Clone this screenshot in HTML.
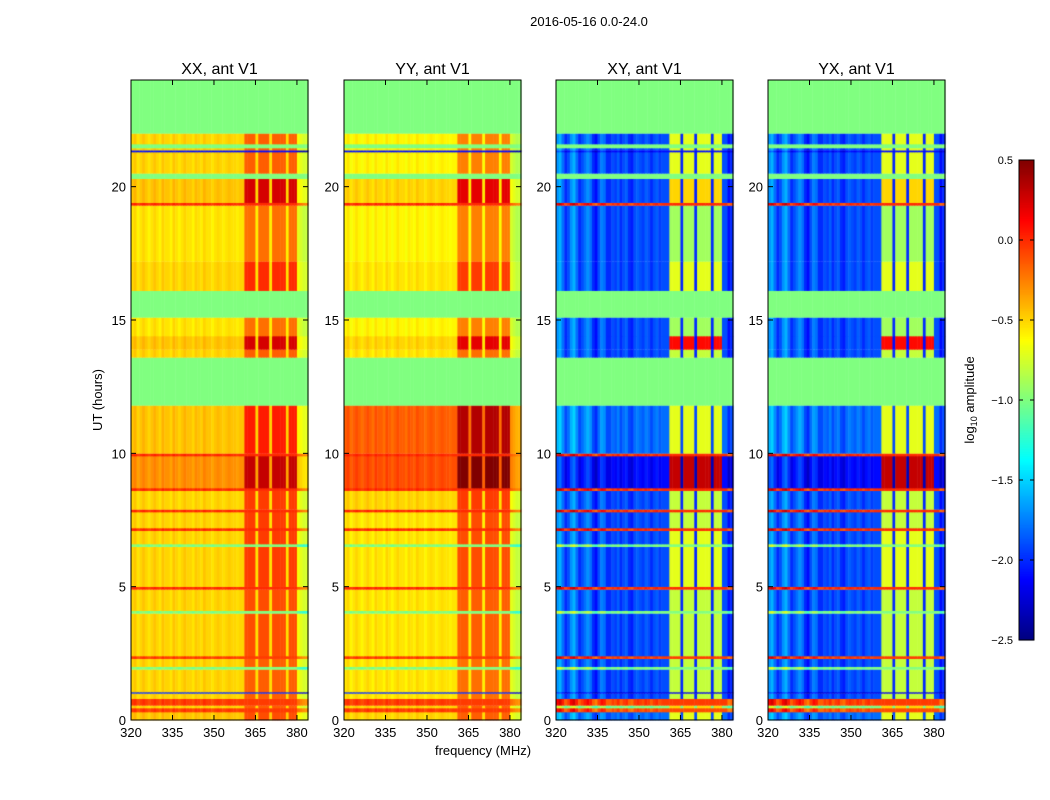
<!DOCTYPE html>
<html><head><meta charset="utf-8">
<style>
body{margin:0;background:#fff;width:1050px;height:800px;overflow:hidden;font-family:"Liberation Sans",sans-serif;}
#wrap{position:relative;width:1050px;height:800px;}
canvas,svg{position:absolute;left:0;top:0;}
</style></head>
<body>
<div id="wrap">
<canvas id="cv" width="1050" height="800"></canvas>
<svg id="sv" width="1050" height="800"></svg>
</div>
<script>
// time segments (hours) and per-panel base values; null = flagged
const segStart=[0,0.3,0.45,0.55,0.8,1.0,1.05,1.9,2.0,2.3,2.4,4.0,4.1,4.9,5.0,6.5,6.6,7.1,7.2,7.8,7.9,8.6,8.7,9.9,10.0,11.8,13.6,13.9,14.4,15.1,16.1,17.2,19.3,19.4,20.3,20.5,21.3,21.37,21.45,21.6,22.0];
const segEnd=[0.3,0.45,0.55,0.8,1.0,1.05,1.9,2.0,2.3,2.4,4.0,4.1,4.9,5.0,6.5,6.6,7.1,7.2,7.8,7.9,8.6,8.7,9.9,10.0,11.8,13.6,13.9,14.4,15.1,16.1,17.2,19.3,19.4,20.3,20.5,21.3,21.37,21.45,21.6,22.0,24.0];
const baseXX=[-0.45,-0.05,-0.5,-0.05,-0.5,-2.0,-0.5,-1.0,-0.5,-0.05,-0.5,-1.0,-0.5,0,-0.5,-1.0,-0.5,0,-0.5,0,-0.5,0,-0.3,0,-0.45,null,-0.5,-0.45,-0.55,null,-0.5,-0.55,0,-0.45,null,-0.5,-2.1,-0.5,null,-0.5,null];
const baseYY=[-0.5,-0.05,-0.5,-0.05,-0.55,-2.0,-0.55,-1.0,-0.55,-0.05,-0.55,-1.0,-0.55,0,-0.55,-1.0,-0.55,0,-0.55,0,-0.5,0,-0.1,0,-0.15,null,-0.55,-0.5,-0.6,null,-0.55,-0.6,0,-0.5,null,-0.6,-2.1,-0.6,null,-0.6,null];
const baseXY=[-1.8,-0.1,-1.0,-0.05,-1.9,-2.2,-1.9,-1.0,-1.9,-0.05,-1.9,-1.0,-1.9,0,-1.9,-1.0,-1.9,0,-1.9,0,-1.9,0,-2.1,0,-1.8,null,-1.9,-1.9,-1.9,null,-1.9,-1.9,0,-1.9,null,-1.9,-2.1,-1.9,null,-1.9,null];
const hiPar=[0.35,0,0.35,0,0.35,0,0.35,0,0.35,0,0.4,0,0.4,0,0.45,0,0.45,0,0.45,0,0.45,0,0.6,0,0.5,0,0.35,0.7,0.35,0,0.5,0.35,0,0.7,0,0.35,0,0.35,0,0.35,0];
const hiCross=[1.1,0,0.5,0,1.1,0,1.1,0,1.1,0,1.1,0,1.1,0,1.2,0,1.2,0,1.1,0,1.1,0,2.4,0,1.1,0,1.1,2.0,1.0,0,1.2,1.0,0,1.4,0,1.2,0,1.2,0,1.2,0];
// frequency columns (1 MHz each, 320..383)
const freqs=[320,321,322,323,324,325,326,327,328,329,330,331,332,333,334,335,336,337,338,339,340,341,342,343,344,345,346,347,348,349,350,351,352,353,354,355,356,357,358,359,360,361,362,363,364,365,366,367,368,369,370,371,372,373,374,375,376,377,378,379,380,381,382,383];
const colLowPar=[0,0.05,-0.05,0,0.05,0,-0.05,0,0.05,0,-0.05,0.05,0,0,-0.05,0.05,0,-0.05,0,0.05,0,0,-0.05,0.03,0,-0.03,0.05,0,0,-0.05,0,0.03,0,-0.03,0,0.03,0,0,-0.03,0,0,0,0,0,0,0,0,0,0,0,0,0,0,0,0,0,0,0,0,0,-0.15,-0.2,-0.25,-0.25];
const colLowCross=[0.2,0.3,0.1,-0.1,0,0.2,0.3,0.1,-0.1,0,0.1,0.2,0.1,-0.1,-0.2,0,0.15,0.1,-0.1,-0.1,0,-0.05,0.05,-0.1,0,0.05,-0.1,-0.15,0,0.05,0,-0.05,0.05,0,-0.1,0,0.05,-0.05,0,0,0,0,0,0,0,0,0,0,0,0,0,0,0,0,0,0,0,0,0,0,0,0,-0.2,-0.1];
const colHigh=[0,0,0,0,0,0,0,0,0,0,0,0,0,0,0,0,0,0,0,0,0,0,0,0,0,0,0,0,0,0,0,0,0,0,0,0,0,0,0,0,0,1,1,1,1,-0.1,1,1,1,1,-0.1,1,1,1,1,1,-0.1,1,1,1,0,0,0,0];
const xTicks=[320,335,350,365,380];
const yTicks=[0,5,10,15,20];
const cbTicks=[0.5,0.0,-0.5,-1.0,-1.5,-2.0,-2.5];
const cbLabels=["0.5","0.0","\u22120.5","\u22121.0","\u22121.5","\u22122.0","\u22122.5"];

const panels=[
 {name:"xx",title:"XX, ant V1",x0:131,base:baseXX,hi:hiPar,low:colLowPar},
 {name:"yy",title:"YY, ant V1",x0:344,base:baseYY,hi:hiPar,low:colLowPar},
 {name:"xy",title:"XY, ant V1",x0:556,base:baseXY,hi:hiCross,low:colLowCross},
 {name:"yx",title:"YX, ant V1",x0:768,base:baseXY,hi:hiCross,low:colLowCross}
];
const PW=177,PT=80,PB=720,FMIN=320,FMAX=384,TMAX=24;
function xs(p,f){return p.x0+(f-FMIN)/(FMAX-FMIN)*PW;}
function ys(h){return PB-h/TMAX*(PB-PT);}
function cl(v){return Math.max(0,Math.min(1,v));}
function jet(v){let t=cl((v+2.5)/3);return `rgb(${Math.round(255*cl(1.5-Math.abs(4*t-3)))},${Math.round(255*cl(1.5-Math.abs(4*t-2)))},${Math.round(255*cl(1.5-Math.abs(4*t-1)))})`;}
const ctx=document.getElementById('cv').getContext('2d');
panels.forEach(p=>{
 for(let s=0;s<segStart.length;s++){
  const yA=ys(segEnd[s]),yB=ys(segStart[s]);
  for(let c=0;c<freqs.length;c++){
   const xa=xs(p,freqs[c]),xb=xs(p,freqs[c]+1);
   ctx.fillStyle=p.base[s]===null?'#80ff80':jet(p.base[s]+p.low[c]+colHigh[c]*p.hi[s]);
   ctx.fillRect(xa,yA,xb-xa+0.5,yB-yA+0.3);
  }
 }
});
// colorbar
const cbX=1019,cbW=15,cbT=160,cbB=640;
for(let i=0;i<480;i++){const v=-2.5+(i+0.5)/480*3;ctx.fillStyle=jet(v);ctx.fillRect(cbX,cbB-i-1,cbW,1.2);}

const sv=document.getElementById('sv'),NS='http://www.w3.org/2000/svg';
function mk(t,a,parent){const e=document.createElementNS(NS,t);for(const k in a)e.setAttribute(k,a[k]);(parent||sv).appendChild(e);return e;}
function txt(s,a,parent){const e=mk('text',Object.assign({'font-family':'Liberation Sans, sans-serif','font-size':13,fill:'#000'},a),parent);e.textContent=s;return e;}
let t=txt("2016-05-16 0.0-24.0",{x:589,y:26,'text-anchor':'middle'});


panels.forEach(p=>{
 const g=mk('g',{});
 
 
 const r=mk('rect',{x:p.x0,y:PT,width:PW,height:PB-PT,fill:'none',stroke:'#000','stroke-width':1},g);
 
 
 const tt=txt(p.title,{x:p.x0+PW/2,y:74,'text-anchor':'middle','font-size':16},g);
 
 
 xTicks.forEach(f=>{const x=xs(p,f);
  mk('line',{x1:x,x2:x,y1:PB,y2:PB-5,stroke:'#000'},g);mk('line',{x1:x,x2:x,y1:PT,y2:PT+5,stroke:'#000'},g);
  const l=txt(String(f),{x:x,y:PB+17,'text-anchor':'middle'},g);
  
  });
 yTicks.forEach(h=>{const y=ys(h);
  mk('line',{x1:p.x0,x2:p.x0+5,y1:y,y2:y,stroke:'#000'},g);mk('line',{x1:p.x0+PW,x2:p.x0+PW-5,y1:y,y2:y,stroke:'#000'},g);
  const l=txt(String(h),{x:p.x0-5,y:y+5,'text-anchor':'end'},g);
  
  });
});
t=txt("UT (hours)",{x:0,y:0,'text-anchor':'middle',transform:'translate(102,400) rotate(-90)'});


t=txt("frequency (MHz)",{x:483,y:755,'text-anchor':'middle'});


const cb=mk('rect',{x:cbX,y:cbT,width:cbW,height:cbB-cbT,fill:'none',stroke:'#000'});


cbTicks.forEach((v,i)=>{const y=cbB-(v+2.5)/3*(cbB-cbT);
 mk('line',{x1:cbX,x2:cbX+4,y1:y,y2:y,stroke:'#000'});mk('line',{x1:cbX+cbW,x2:cbX+cbW-4,y1:y,y2:y,stroke:'#000'});
 const l=txt(cbLabels[i],{x:1013,y:y+4,'text-anchor':'end','font-size':11});
 
 });
t=mk('text',{x:0,y:0,'text-anchor':'middle','font-family':'Liberation Sans, sans-serif','font-size':13,transform:'translate(974,400) rotate(-90)'});
t.innerHTML='log<tspan font-size="9" dy="3">10</tspan><tspan dy="-3"> amplitude</tspan>';


</script>
</body></html>
